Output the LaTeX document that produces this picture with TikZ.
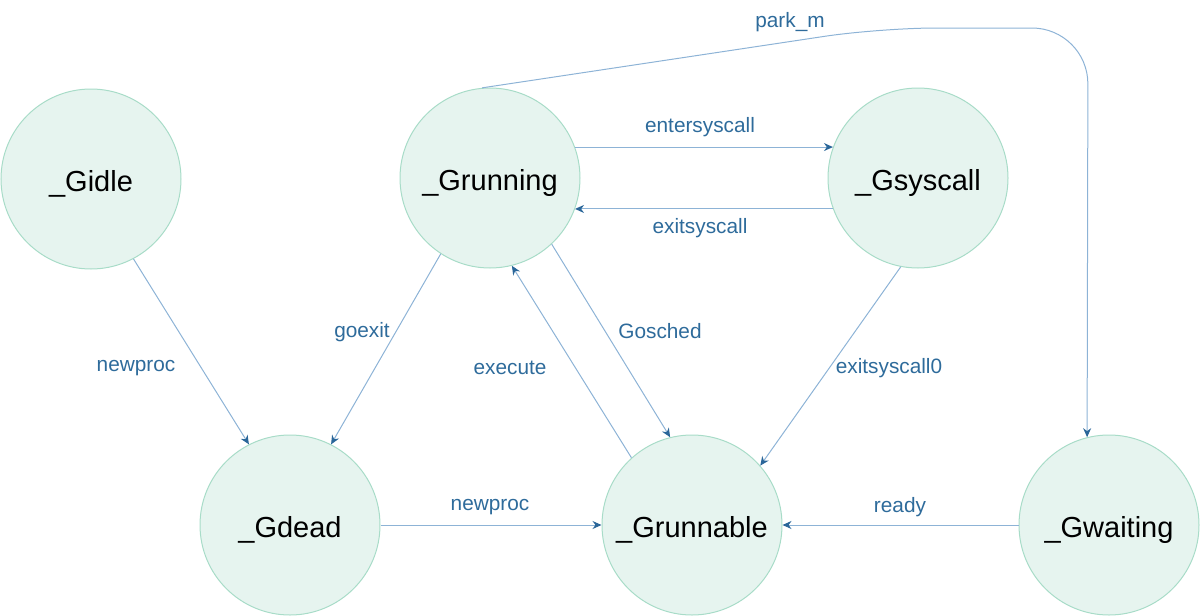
\documentclass[tikz,border=0pt]{standalone}
\usepackage{fontspec}
\setmainfont{Liberation Sans}
\usetikzlibrary{arrows.meta}
\definecolor{statefill}{HTML}{E6F4EF}
\definecolor{stateline}{HTML}{A8DCC8}
\definecolor{edgeline}{HTML}{8DB3D6}
\definecolor{edgetip}{HTML}{2A6699}
\definecolor{edgetext}{HTML}{2E6B9B}
\tikzstyle{state} = [draw=stateline, fill=statefill, circle, line width=0.5pt, minimum size=90pt, inner sep=0pt, text height=12pt, text depth=0pt, font=\fontsize{14.5}{17}\selectfont]
\tikzstyle{edge} = [draw=edgeline, line width=0.5pt, -{Stealth[length=4.5pt,width=4pt,color=edgetip]}]
\tikzstyle{lbl} = [text=edgetext, font=\fontsize{10.4}{12}\selectfont, inner sep=1pt]
\begin{document}
\begin{tikzpicture}[x=0.5pt,y=-0.5pt]
\useasboundingbox (0,0) rectangle (1200,616);
\node [state] (gidle) at (91,179) {\_Gidle};
\node [state] (grunning) at (490,178) {\_Grunning};
\node [state] (gsyscall) at (918,178) {\_Gsyscall};
\node [state] (gdead) at (290,525) {\_Gdead};
\node [state] (grunnable) at (692,525) {\_Grunnable};
\node [state] (gwaiting) at (1109,525) {\_Gwaiting};

\draw [edge] (gidle.-62) -- (gdead.117);
\draw [edge] (grunning.-123) -- (gdead.63);
\draw [edge] (grunnable.132) -- (grunning.-76);
\draw [edge] (grunning.-47) -- (grunnable.104);
\draw [edge] (gsyscall.-101) -- (grunnable.41);
\draw [edge] (grunning.20) -- (gsyscall.160);
\draw [edge] (gsyscall.-160) -- (grunning.-20);
\draw [edge] (gdead.east) -- (grunnable.west);
\draw [edge] (gwaiting.west) -- (grunnable.east);
\draw [edge, rounded corners=28pt] (grunning.95) -- (880,28) -- (1088,28) -- (gwaiting.104);

\node [lbl] (l-newproc) at (136,368) {newproc};
\node [lbl] (l-goexit) at (362,332) {goexit};
\node [lbl] (l-execute) at (510,368) {execute};
\node [lbl] (l-gosched) at (660,331) {Gosched};
\node [lbl] (l-exitsc0) at (889,368) {exitsyscall0};
\node [lbl] (l-entersc) at (700,127) {entersyscall};
\node [lbl] (l-exitsc) at (700,228) {exitsyscall};
\node [lbl] (l-newproc2) at (490,507) {newproc};
\node [lbl] (l-ready) at (900,507) {ready};
\node [lbl] (l-parkm) at (790,22) {park\_m};
\end{tikzpicture}
\end{document}
